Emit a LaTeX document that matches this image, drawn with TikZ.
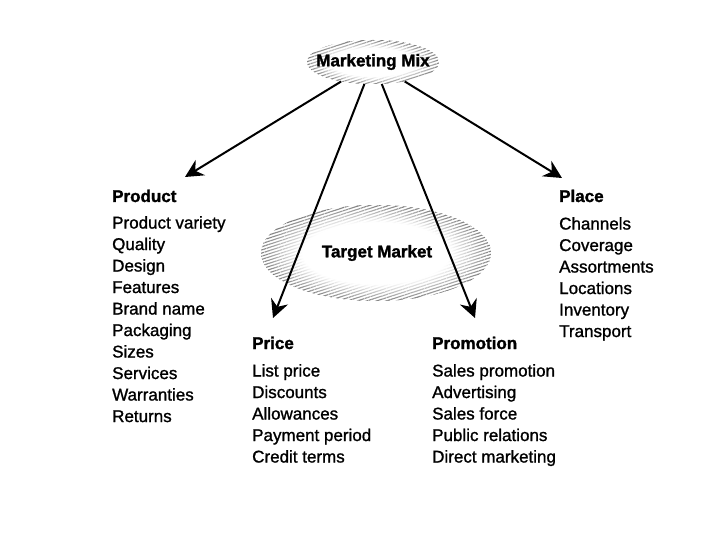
\documentclass[tikz,border=0pt]{standalone}
\usepackage{fontspec}
\setmainfont{Liberation Sans}[BoldFeatures={FakeBold=1.5}]
\newfontfamily\itemfont{Liberation Sans}[UprightFeatures={FakeBold=1.2}]
\usetikzlibrary{shapes.geometric,arrows.meta,patterns.meta,fadings}
\pgfdeclareradialshading{coreshade}{\pgfpoint{0bp}{0bp}}{color(0bp)=(white); color(16bp)=(white); color(34bp)=(black); color(50bp)=(black)}
\pgfdeclarefading{corefade}{\pgfuseshading{coreshade}}
\begin{document}
\begin{tikzpicture}[x=1pt,y=-1pt,
  hatch/.style={pattern={Lines[angle=18,distance=3pt,line width=1.1pt]},pattern color=black},
  core/.style={fill=white,path fading=corefade},
  arr/.style={line width=2pt,-{Stealth[length=18pt,width=18pt,inset=6pt]}},
  head/.style={anchor=base west,inner sep=0pt,font=\bfseries\fontsize{17}{21.5}\selectfont},
  list/.style={anchor=north west,inner sep=0pt,align=left,font=\itemfont\fontsize{17}{21.5}\selectfont},
  ell/.style={ellipse,inner sep=0pt,font=\bfseries\fontsize{17}{20}\selectfont}]
\fill[white] (0,0) rectangle (720,540);
\useasboundingbox (0,0) rectangle (720,540);

% ellipses
\path[hatch] (373,62) ellipse [x radius=66, y radius=22];
\path[core] (373,62) ellipse [x radius=66, y radius=22];
\node[ell,minimum width=132pt,minimum height=44pt] (mm) at (373,62) {\makebox[0pt]{Marketing Mix}};

\path[hatch] (376,253) ellipse [x radius=115, y radius=48];
\path[core] (376,253) ellipse [x radius=115, y radius=48];
\node[ell,minimum width=230pt,minimum height=96pt] (tm) at (377,253) {\makebox[0pt]{Target Market}};

% arrow ends
\coordinate (pa) at (185,177);
\coordinate (pb) at (273,318);
\coordinate (pc) at (475,318);
\coordinate (pd) at (562,178);
\draw[arr] (mm) -- (pa);
\draw[arr] (mm) -- (pb);
\draw[arr] (mm) -- (pc);
\draw[arr] (mm) -- (pd);

% columns
\node[head] (hprod) at (112,202) {Product};
\node[list] (lprod) at (112,216) {Product variety\\Quality\\Design\\Features\\Brand name\\Packaging\\Sizes\\Services\\Warranties\\Returns};

\node[head] (hplace) at (559,202) {Place};
\node[list] (lplace) at (559,217) {Channels\\Coverage\\Assortments\\Locations\\Inventory\\Transport};

\node[head] (hprice) at (252,349) {Price};
\node[list] (lprice) at (252,364) {List price\\Discounts\\Allowances\\Payment period\\Credit terms};

\node[head] (hpromo) at (432,349) {Promotion};
\node[list] (lpromo) at (432,364) {Sales promotion\\Advertising\\Sales force\\Public relations\\Direct marketing};
\end{tikzpicture}
\end{document}
